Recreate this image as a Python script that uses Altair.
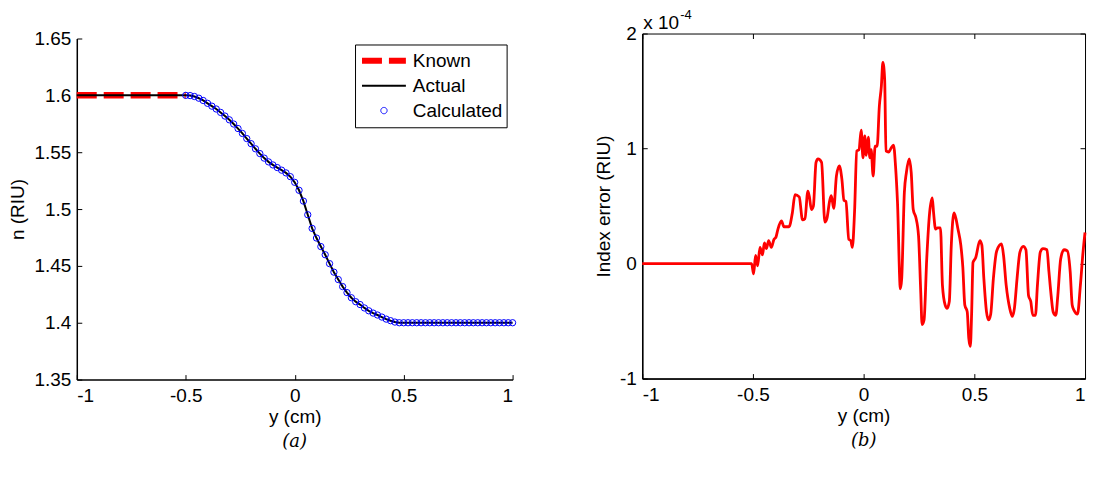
import altair as alt
import numpy as np
import pandas as pd

FONT = "Liberation Sans"
FS = 19

# ---------------- shared tick positions ----------------
x_ticks = [-1, -0.5, 0, 0.5, 1]
n_ticks = [1.35, 1.4, 1.45, 1.5, 1.55, 1.6, 1.65]
err_ticks = [-1, 0, 1, 2]

# ---------------- panel (a): index profile ----------------
known_pos = [-1.0, -0.5]
known_n = [1.6, 1.6]

# reconstruction grid: 0.02 cm steps from -0.5 cm to 1.0 cm
calc_pos = np.round(np.linspace(-0.5, 1.0, 76), 2).tolist()
calc_n = [
    1.6000, 1.5998, 1.5990, 1.5975, 1.5955, 1.5930, 1.5905, 1.5880, 1.5850, 1.5818,
    1.5785, 1.5748, 1.5708, 1.5665, 1.5620, 1.5575, 1.5530, 1.5488, 1.5448, 1.5415,
    1.5388, 1.5365, 1.5342, 1.5318, 1.5285,
    1.5235, 1.5165, 1.5070, 1.4950, 1.4830, 1.4745, 1.4670, 1.4598, 1.4520, 1.4445,
    1.4380, 1.4318, 1.4265, 1.4220, 1.4185, 1.4160, 1.4130, 1.4105, 1.4085, 1.4068,
    1.4050, 1.4032, 1.4018, 1.4006, 1.4000,
    1.4, 1.4, 1.4, 1.4, 1.4, 1.4, 1.4, 1.4, 1.4, 1.4, 1.4, 1.4, 1.4,
    1.4, 1.4, 1.4, 1.4, 1.4, 1.4, 1.4, 1.4, 1.4, 1.4, 1.4, 1.4, 1.4,
]
actual_pos = [-1.0] + calc_pos
actual_n = [1.6] + calc_n

series_names = ["Known", "Actual", "Calculated"]

# ---------------- panel (b): index error (x 1e-4 RIU) ----------------
err_pos = [
    -1.0, -0.506, -0.497, -0.488, -0.479, -0.468, -0.457, -0.448, -0.439, -0.429,
    -0.417, -0.405, -0.396, -0.387, -0.371, -0.360, -0.337, -0.322, -0.310, -0.291,
    -0.276, -0.265, -0.252, -0.245, -0.236, -0.227, -0.215, -0.206, -0.190, -0.175,
    -0.166, -0.153, -0.146, -0.135, -0.123, -0.110, -0.098, -0.089, -0.080, -0.067,
    -0.058, -0.051, -0.041, -0.031, -0.021, -0.011, -0.003, 0.005, 0.012, 0.021,
    0.028, 0.034, 0.043, 0.052, 0.061, 0.071, 0.080, 0.087, 0.095, 0.101,
    0.113, 0.123, 0.135, 0.144, 0.153, 0.166, 0.172, 0.184, 0.193, 0.206,
    0.215, 0.224, 0.236, 0.248, 0.258, 0.264, 0.273, 0.285, 0.298, 0.310,
    0.316, 0.325, 0.334, 0.347, 0.356, 0.368, 0.377, 0.387, 0.396, 0.408,
    0.417, 0.426, 0.439, 0.448, 0.457, 0.468, 0.475, 0.482, 0.488, 0.494,
    0.506, 0.525, 0.534, 0.543, 0.555, 0.564, 0.574, 0.586, 0.601, 0.623,
    0.632, 0.644, 0.660, 0.672, 0.681, 0.693, 0.706, 0.721, 0.733, 0.745,
    0.755, 0.764, 0.776, 0.785, 0.798, 0.810, 0.828, 0.837, 0.847, 0.856,
    0.868, 0.877, 0.890, 0.905, 0.920, 0.933, 0.942, 0.951, 0.966, 0.979,
    0.991, 1.000,
]
err_val = [
    0.0, 0.0, -0.09, 0.07, -0.02, 0.14, 0.075, 0.18, 0.13, 0.20,
    0.14, 0.21, 0.23, 0.30, 0.37, 0.32, 0.32, 0.44, 0.60, 0.58,
    0.38, 0.39, 0.63, 0.58, 0.47, 0.50, 0.88, 0.91, 0.88, 0.36,
    0.39, 0.55, 0.59, 0.48, 0.76, 0.85, 0.73, 0.55, 0.54, 0.21,
    0.20, 0.14, 0.45, 0.98, 0.99, 1.16, 0.92, 1.11, 0.94, 1.10,
    0.92, 0.99, 0.76, 1.02, 1.02, 1.37, 1.54, 1.75, 1.60, 0.98,
    0.97, 1.00, 1.03, 0.85, 0.53, -0.22, -0.13, 0.62, 0.79, 0.91,
    0.79, 0.47, 0.40, 0.24, -0.25, -0.53, -0.49, 0.04, 0.44, 0.57,
    0.44, 0.30, 0.31, 0.31, -0.19, -0.36, -0.39, -0.33, 0.16, 0.44,
    0.39, 0.30, 0.16, -0.03, -0.36, -0.42, -0.65, -0.72, -0.42, 0.01,
    0.05, 0.20, 0.16, -0.13, -0.42, -0.49, -0.44, -0.13, 0.11, 0.17,
    0.07, -0.19, -0.39, -0.46, -0.39, -0.13, 0.10, 0.15, 0.12, -0.28,
    -0.33, -0.45, -0.45, -0.19, 0.10, 0.13, 0.12, -0.07, -0.28, -0.42,
    -0.45, -0.28, 0.04, 0.12, 0.11, -0.07, -0.36, -0.41, -0.44, -0.19,
    0.10, 0.27,
]

df_known = pd.DataFrame({"pos": known_pos, "n": known_n})
df_actual = pd.DataFrame({"pos": actual_pos, "n": actual_n})
df_calc = pd.DataFrame({"pos": calc_pos, "n": calc_n})
df_series = pd.DataFrame({"series": series_names})
df_err = pd.DataFrame({"pos": err_pos, "err": err_val})

LABEL_EXPR = "replace(datum.label, '\u2212', '-')"
TICK = 5


def main_axis(orient, values, title, title_pad):
    return alt.Axis(
        orient=orient, values=values, format="~g", labelExpr=LABEL_EXPR,
        title=title, ticks=False, domain=True, domainColor="black",
        domainWidth=1.5, labelPadding=7 if orient == "bottom" else 6,
        titlePadding=title_pad, grid=False,
    )


def tick_axis(orient, values):
    # ticks drawn toward the inside of the plot area
    return alt.Axis(
        orient=orient, values=values, labels=False, domain=False, title=None,
        ticks=True, tickSize=TICK, tickColor="black", tickWidth=1,
        offset=-TICK, grid=False,
    )


W1, H1, TOP1 = 437, 347, 5   # panel (a) plot sits 5 px lower than panel (b)
W2, H2 = 444, 346

x_scale = alt.Scale(domain=[-1, 1], nice=False, zero=False)
n_scale = alt.Scale(domain=[1.35, 1.65], nice=False, zero=False, range=[H1, TOP1])
e_scale = alt.Scale(domain=[-1, 2], nice=False, zero=False)

# ---------------- panel (a) layers ----------------
known = alt.Chart(df_known).mark_line(
    color="#ff0000", strokeWidth=6.5, strokeDash=[20, 7]
).encode(
    x=alt.X("pos:Q", scale=x_scale, axis=tick_axis("bottom", x_ticks)),
    y=alt.Y("n:Q", scale=n_scale, axis=tick_axis("left", n_ticks)),
)

actual = alt.Chart(df_actual).mark_line(color="black", strokeWidth=2).encode(
    x=alt.X("pos:Q", scale=x_scale, axis=main_axis("bottom", x_ticks, "y (cm)", 2)),
    y=alt.Y("n:Q", scale=n_scale, axis=main_axis("left", n_ticks, "n (RIU)", 6)),
)

calculated = alt.Chart(df_calc).mark_point(
    shape="circle", size=40, filled=False, color="#0000ff", strokeWidth=1, opacity=1
).encode(
    x=alt.X("pos:Q", scale=x_scale, axis=None),
    y=alt.Y("n:Q", scale=n_scale, axis=None),
)

legend = alt.Legend(
    title=None, orient="none", legendX=279, legendY=TOP1 + 6,
    labelFont=FONT, labelFontSize=FS, labelColor="black", labelOffset=4,
    strokeColor="black", fillColor="white", padding=4, rowPadding=0,
    clipHeight=24.5, symbolOpacity=1,
)
series = alt.Chart(df_series).mark_point(opacity=0, filled=False).encode(
    x=alt.value(0),
    y=alt.value(TOP1),
    color=alt.Color("series:N", legend=legend,
                    scale=alt.Scale(domain=series_names, range=["#ff0000", "#000000", "#0000ff"])),
    shape=alt.Shape("series:N", legend=legend,
                    scale=alt.Scale(domain=series_names, range=["stroke", "stroke", "circle"])),
    size=alt.Size("series:N", legend=legend,
                  scale=alt.Scale(type="ordinal", domain=series_names, range=[1936, 1936, 40])),
    strokeDash=alt.StrokeDash("series:N", legend=legend,
                              scale=alt.Scale(domain=series_names, range=[[20, 7], [1, 0], [1, 0]])),
    strokeWidth=alt.StrokeWidth("series:N", legend=legend,
                                scale=alt.Scale(type="ordinal", domain=series_names, range=[6, 2, 1])),
)

title_a = alt.TitleParams(
    "(a)", orient="bottom", anchor="middle", frame="group", font="DejaVu Serif",
    fontStyle="italic", fontWeight="normal", fontSize=18, color="black", offset=7,
)
panel_a = alt.layer(known, actual, calculated, series).resolve_axis(
    x="independent", y="independent"
).properties(
    width=W1, height=H1, title=title_a,
    view=alt.ViewBackground(strokeOpacity=0),
)

# ---------------- panel (b) layers ----------------
err_line = alt.Chart(df_err).mark_line(
    color="#ff0000", strokeWidth=2.8, interpolate="monotone"
).encode(
    x=alt.X("pos:Q", scale=x_scale, axis=main_axis("bottom", x_ticks, "y (cm)", 2)),
    y=alt.Y("err:Q", scale=e_scale, axis=main_axis("left", err_ticks, "Index error (RIU)", 6)),
)
ticks_lb = alt.Chart(df_err).mark_line(opacity=0).encode(
    x=alt.X("pos:Q", scale=x_scale, axis=tick_axis("bottom", x_ticks)),
    y=alt.Y("err:Q", scale=e_scale, axis=tick_axis("left", err_ticks)),
)
ticks_tr = alt.Chart(df_err).mark_line(opacity=0).encode(
    x=alt.X("pos:Q", scale=x_scale, axis=tick_axis("top", x_ticks)),
    y=alt.Y("err:Q", scale=e_scale, axis=tick_axis("right", err_ticks)),
)
exp_base = alt.Chart(pd.DataFrame({"k": [0]})).mark_text(
    text="x 10", font=FONT, fontSize=FS, align="left", baseline="alphabetic", color="black"
).encode(x=alt.value(1), y=alt.value(-5))
exp_pow = alt.Chart(pd.DataFrame({"k": [0]})).mark_text(
    text="-4", font=FONT, fontSize=13, align="left", baseline="alphabetic", color="black"
).encode(x=alt.value(38), y=alt.value(-15))

title_b = alt.TitleParams(
    "(b)", orient="bottom", anchor="middle", frame="group", font="DejaVu Serif",
    fontStyle="italic", fontWeight="normal", fontSize=18, color="black", offset=7,
)
panel_b = alt.layer(err_line, ticks_lb, ticks_tr, exp_base, exp_pow).resolve_axis(
    x="independent", y="independent"
).properties(
    width=W2, height=H2, title=title_b,
    view=alt.ViewBackground(stroke="black", strokeWidth=1),
)

chart = alt.hconcat(panel_a, panel_b, spacing=130, bounds="flush").properties(
    padding={"left": 9, "top": 7, "right": 2, "bottom": 2},
    background="white",
).configure_axis(
    labelFont=FONT, labelFontSize=FS, labelColor="black",
    titleFont=FONT, titleFontSize=FS, titleFontWeight="normal", titleColor="black",
)

chart.save("out.html", embed_options={"renderer": "svg", "actions": False})
